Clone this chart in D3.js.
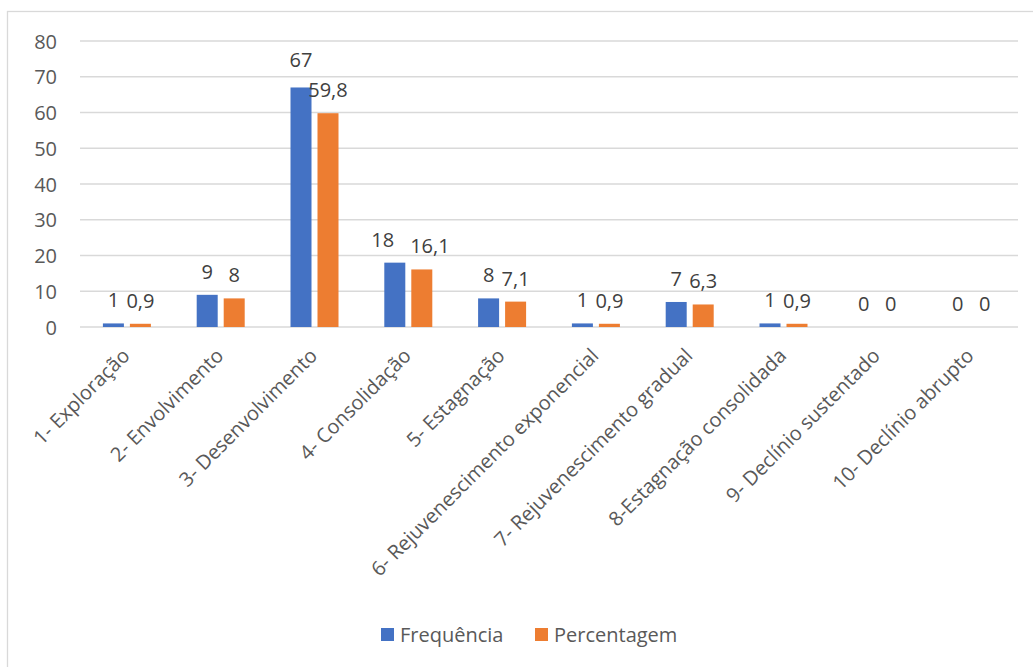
<!DOCTYPE html>
<html><head><meta charset="utf-8">
<script src="https://cdn.jsdelivr.net/npm/d3@7"></script>
<style>body{margin:0;background:#fff;} text{font-family:"Open Sans","Noto Sans",sans-serif;}</style>
</head><body><svg id="c" width="1033" height="667"></svg>
<script>
const categories = ["1- Exploração","2- Envolvimento","3- Desenvolvimento","4- Consolidação","5- Estagnação","6- Rejuvenescimento exponencial","7- Rejuvenescimento gradual","8-Estagnação consolidada","9- Declínio sustentado","10- Declínio abrupto"];
const frequencia = [1,9,67,18,8,1,7,1,0,0];
const percentagem = [0.9,8,59.8,16.1,7.1,0.9,6.3,0.9,0,0];
const seriesNames = ["Frequência","Percentagem"];
const colors = ["#4472C4","#ED7D31"];
const yTicks = [0,10,20,30,40,50,60,70,80];

const svg = d3.select("#c");
svg.append("rect").attr("x",7.5).attr("y",11.5).attr("width",1040).attr("height",670).attr("fill","#fff").attr("stroke","#d9d9d9").attr("stroke-width",1.3);

const m = {l:80, r:1018, t:41, b:327};
const x = d3.scaleBand().domain(categories).range([m.l,m.r]);
const y = d3.scaleLinear().domain([0,80]).range([m.b,m.t]);
const fmt = v => String(v).replace(".",",");

const g = svg.append("g");
g.selectAll("line.grid").data(yTicks).join("line").attr("class","grid")
  .attr("x1",m.l).attr("x2",m.r).attr("y1",d=>y(d)).attr("y2",d=>y(d))
  .attr("stroke","#d9d9d9").attr("stroke-width",1.3);

const yAxis = d3.axisLeft(y).tickValues(yTicks).tickSize(0).tickPadding(0).tickFormat(d=>d);
const ya = svg.append("g").attr("transform","translate(57,0)").call(yAxis);
ya.select(".domain").remove();
ya.selectAll("text").attr("font-size",20).attr("fill","#595959").attr("dy","0.35em");

const bw = 21, gap = 6;
const data = [frequencia, percentagem];
const labelSel = [];
data.forEach((vals,si)=>{
  const off = si===0 ? -(gap/2+bw) : gap/2;
  svg.append("g").selectAll("rect").data(vals).join("rect")
    .attr("x",(d,i)=>x(categories[i])+x.bandwidth()/2+off)
    .attr("y",d=>y(d)).attr("width",bw).attr("height",d=>y(0)-y(d))
    .attr("fill",colors[si]);
  labelSel.push(svg.append("g").selectAll("text").data(vals).join("text")
    .attr("x",(d,i)=>x(categories[i])+x.bandwidth()/2+off+bw/2)
    .attr("y",d=>y(d)-16)
    .attr("text-anchor","middle").attr("font-size",20).attr("fill","#404040")
    .text(d=>fmt(d)));
});
// resolve label collisions between the pair in each category
const bn = labelSel[0].nodes(), on = labelSel[1].nodes();
bn.forEach((b,i)=>{
  const o = on[i];
  const bb = b.getBBox(), ob = o.getBBox();
  const dy = Math.abs(bb.y - ob.y);
  const hgap = ob.x - (bb.x + bb.width);
  if (dy > 15) {
    const upper = bb.y < ob.y ? b : o;
    d3.select(upper).attr("y", +d3.select(upper).attr("y") - 4);
  } else if (hgap < 5) {
    const need = 16 - hgap;
    d3.select(b).attr("x", +d3.select(b).attr("x") - need*0.6);
    d3.select(o).attr("x", +d3.select(o).attr("x") + need*0.4);
  }
});

const xAxis = d3.axisBottom(x).tickSize(0).tickPadding(0);
const xa = svg.append("g").attr("transform",`translate(0,${m.b})`).call(xAxis);
xa.select(".domain").remove();
xa.selectAll("text").attr("font-size",20).attr("fill","#595959")
  .attr("text-anchor","end").attr("dy",0)
  .attr("transform","translate(4,30) rotate(-45)");

const lg = svg.append("g");
const lx = [381, 535];
seriesNames.forEach((n,i)=>{
  lg.append("rect").attr("x",lx[i]).attr("y",628).attr("width",13).attr("height",13).attr("fill",colors[i]);
  lg.append("text").attr("x",lx[i]+19).attr("y",642).attr("font-size",20).attr("fill","#595959").text(n);
});
</script></body></html>
